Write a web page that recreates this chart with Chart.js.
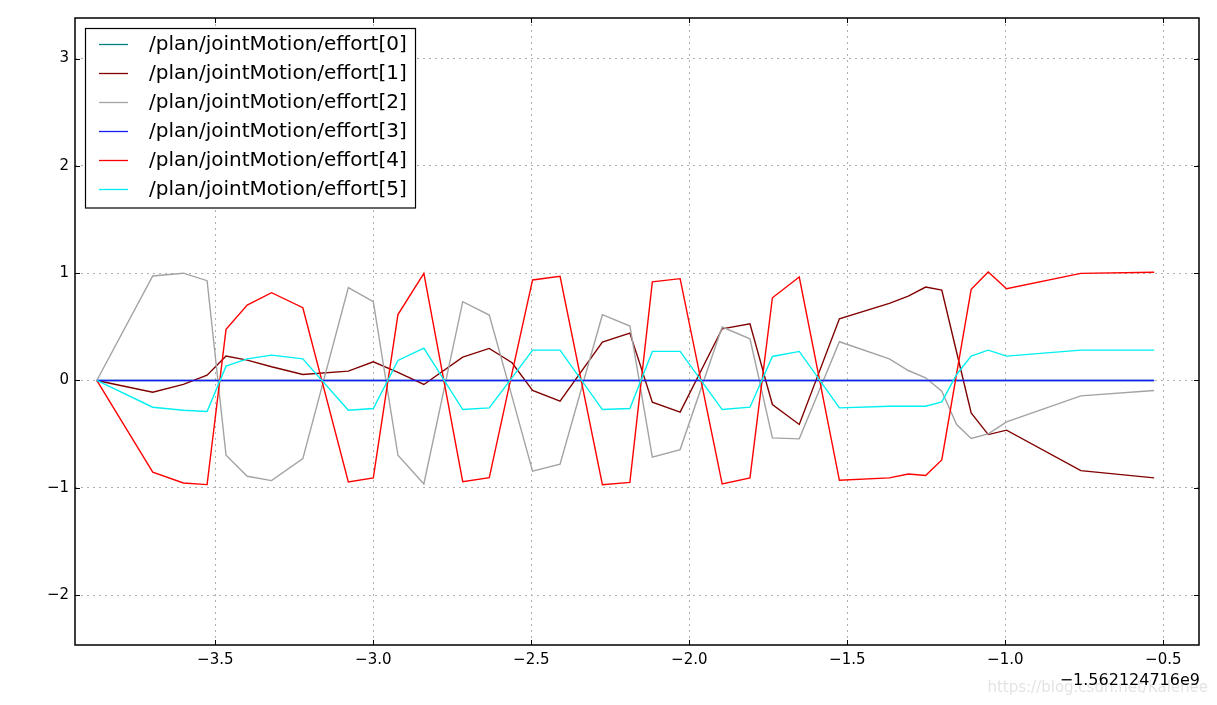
<!DOCTYPE html>
<html>
<head>
<meta charset="utf-8">
<script src="https://cdn.jsdelivr.net/npm/chart.js@4.4.0/dist/chart.umd.min.js"></script>
<style>
  body { margin: 0; background: #fff; }
  canvas { display: block; }
</style>
</head>
<body>
<canvas id="myChart" width="1217" height="705"></canvas>
<script>
// time offsets (s), shown relative to -1.562124716e9
const times = [-3.875, -3.698, -3.601, -3.526, -3.466, -3.399, -3.322, -3.223, -3.079, -3.000,
  -2.922, -2.840, -2.717, -2.633, -2.561, -2.496, -2.409, -2.275, -2.188, -2.117,
  -2.029, -1.896, -1.808, -1.737, -1.652, -1.525, -1.367, -1.307, -1.252, -1.201,
  -1.154, -1.108, -1.054, -0.996, -0.761, -0.529];

const effort0 = [0, 0, 0, 0, 0, 0, 0, 0, 0, 0, 0, 0, 0, 0, 0, 0, 0, 0, 0, 0,
  0, 0, 0, 0, 0, 0, 0, 0, 0, 0, 0, 0, 0, 0, 0, 0];
const effort1 = [0, -0.109, -0.037, 0.05, 0.227, 0.19, 0.128, 0.056, 0.087, 0.174,
  0.075, -0.037, 0.218, 0.299, 0.165, -0.093, -0.193, 0.358, 0.442, -0.202,
  -0.295, 0.482, 0.529, -0.224, -0.41, 0.575, 0.718, 0.787, 0.871, 0.843,
  0.263, -0.302, -0.504, -0.463, -0.84, -0.908];
const effort2 = [0, 0.974, 1.0, 0.93, -0.697, -0.893, -0.933, -0.728, 0.865, 0.734,
  -0.697, -0.964, 0.734, 0.61, -0.15, -0.846, -0.781, 0.613, 0.507, -0.715,
  -0.644, 0.498, 0.389, -0.535, -0.544, 0.361, 0.202, 0.093, 0.025, -0.10,
  -0.41, -0.541, -0.498, -0.386, -0.143, -0.093];
const effort3 = [0, 0, 0, 0, 0, 0, 0, 0, 0, 0, 0, 0, 0, 0, 0, 0, 0, 0, 0, 0,
  0, 0, 0, 0, 0, 0, 0, 0, 0, 0, 0, 0, 0, 0, 0, 0];
const effort4 = [0, -0.855, -0.955, -0.97, 0.476, 0.703, 0.818, 0.678, -0.946, -0.908,
  0.614, 0.999, -0.943, -0.906, 0.068, 0.937, 0.971, -0.971, -0.95, 0.919,
  0.949, -0.964, -0.908, 0.771, 0.964, -0.93, -0.908, -0.871, -0.886, -0.74,
  0.065, 0.849, 1.011, 0.855, 0.998, 1.008];
const effort5 = [0, -0.249, -0.277, -0.289, 0.134, 0.202, 0.236, 0.202, -0.277, -0.261,
  0.187, 0.302, -0.271, -0.255, 0.026, 0.283, 0.283, -0.271, -0.261, 0.271,
  0.271, -0.271, -0.249, 0.224, 0.271, -0.255, -0.24, -0.24, -0.24, -0.20,
  0.056, 0.227, 0.283, 0.227, 0.283, 0.283];

const seriesNames = ['/plan/jointMotion/effort[0]', '/plan/jointMotion/effort[1]',
  '/plan/jointMotion/effort[2]', '/plan/jointMotion/effort[3]',
  '/plan/jointMotion/effort[4]', '/plan/jointMotion/effort[5]'];
const seriesColors = ['#008080', '#800000', '#a3a3a3', '#1a1aff', '#ff0000', '#00f0f0'];

const xTicks = [-3.5, -3.0, -2.5, -2.0, -1.5, -1.0, -0.5];
const yTicks = [-2, -1, 0, 1, 2, 3];
const xOffsetLabel = '\u22121.562124716e9';
const watermark = 'https://blog.csdn.net/Kalenee';

const allSeries = [effort0, effort1, effort2, effort3, effort4, effort5];
const minus = s => s.replace('-', '\u2212');

// matplotlib-ish frame, inward ticks, legend box and offset text
const mplExtras = {
  id: 'mplExtras',
  afterDraw(chart) {
    const ctx = chart.ctx;
    const a = chart.chartArea;
    const xs = chart.scales.x, ys = chart.scales.y;
    ctx.save();
    ctx.setLineDash([]);
    ctx.strokeStyle = '#000';
    ctx.lineWidth = 1;
    ctx.beginPath();
    xTicks.forEach(v => {
      const px = Math.round(xs.getPixelForValue(v)) + 0.5;
      ctx.moveTo(px, a.bottom); ctx.lineTo(px, a.bottom - 5);
      ctx.moveTo(px, a.top); ctx.lineTo(px, a.top + 5);
    });
    yTicks.forEach(v => {
      const py = Math.round(ys.getPixelForValue(v)) + 0.5;
      ctx.moveTo(a.left, py); ctx.lineTo(a.left + 5, py);
      ctx.moveTo(a.right, py); ctx.lineTo(a.right - 5, py);
    });
    ctx.stroke();
    ctx.lineWidth = 1.5;
    ctx.strokeRect(a.left, a.top, a.right - a.left, a.bottom - a.top);

    // legend
    ctx.fillStyle = '#fff';
    ctx.fillRect(85.5, 28.5, 330, 179.5);
    ctx.lineWidth = 1.2;
    ctx.strokeStyle = '#000';
    ctx.strokeRect(85.5, 28.5, 330, 179.5);
    ctx.font = '20px "DejaVu Sans"';
    ctx.textBaseline = 'middle';
    ctx.textAlign = 'left';
    chart.data.datasets.forEach((ds, i) => {
      const y = 44 + i * 29;
      ctx.strokeStyle = ds.borderColor;
      ctx.lineWidth = 1.3;
      ctx.beginPath();
      ctx.moveTo(99, y + 0.5); ctx.lineTo(128, y + 0.5);
      ctx.stroke();
      ctx.fillStyle = '#000';
      ctx.fillText(ds.label, 149, y + 1);
    });

    // watermark then offset label
    ctx.textAlign = 'right';
    ctx.font = '15px "DejaVu Sans"';
    ctx.fillStyle = '#e4e4e4';
    ctx.fillText(watermark, 1208, 688);
    ctx.font = '16px "DejaVu Sans"';
    ctx.fillStyle = '#000';
    ctx.fillText(xOffsetLabel, 1200, 681);
    ctx.restore();
  }
};

const ctx = document.getElementById('myChart');

new Chart(ctx, {
  type: 'line',
  data: {
    datasets: allSeries.map((arr, i) => ({
      label: seriesNames[i],
      data: times.map((t, k) => ({ x: t, y: arr[k] })),
      borderColor: seriesColors[i],
      backgroundColor: seriesColors[i],
      borderWidth: 1.4,
      pointRadius: 0,
      tension: 0,
      fill: false,
      order: 5 - i
    }))
  },
  options: {
    responsive: false,
    devicePixelRatio: 1,
    animation: false,
    layout: { padding: { left: 0, top: 18, right: 18, bottom: 0 } },
    plugins: {
      legend: { display: false },
      tooltip: { enabled: false }
    },
    scales: {
      x: {
        type: 'linear',
        min: -3.944,
        max: -0.387,
        afterBuildTicks: s => { s.ticks = xTicks.map(v => ({ value: v })); },
        afterFit: s => { s.height = 60; },
        grid: { color: '#b0b0b0', lineWidth: 1, drawTicks: false },
        border: { display: false, dash: [2, 4] },
        ticks: {
          padding: 6,
          color: '#000',
          font: { family: 'DejaVu Sans', size: 15 },
          maxRotation: 0,
          callback: v => minus(Number(v).toFixed(1))
        }
      },
      y: {
        type: 'linear',
        min: -2.465,
        max: 3.378,
        afterBuildTicks: s => { s.ticks = yTicks.map(v => ({ value: v })); },
        afterFit: s => { s.width = 75; },
        grid: { color: '#b0b0b0', lineWidth: 1, drawTicks: false },
        border: { display: false, dash: [2, 4] },
        ticks: {
          padding: 6,
          color: '#000',
          font: { family: 'DejaVu Sans', size: 15 },
          callback: v => minus(String(v))
        }
      }
    }
  },
  plugins: [mplExtras]
});
</script>
</body>
</html>
